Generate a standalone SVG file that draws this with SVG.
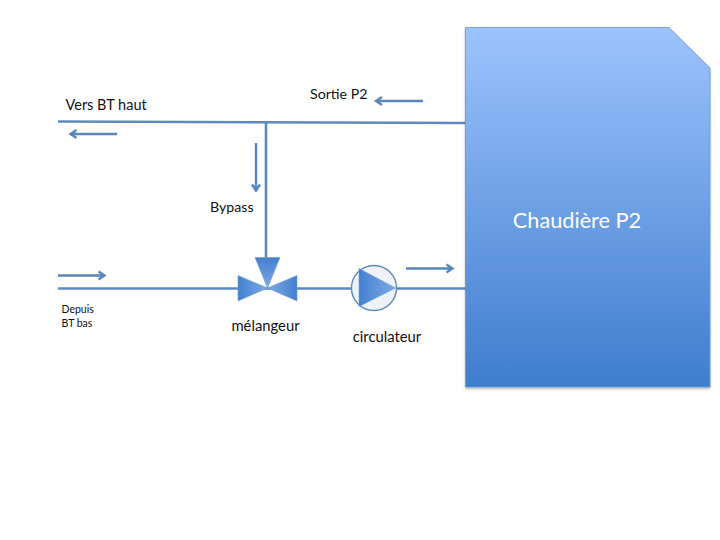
<svg xmlns="http://www.w3.org/2000/svg" width="720" height="540" viewBox="0 0 720 540">
<defs>
<linearGradient id="boxFill" x1="0" y1="0" x2="0" y2="1"><stop offset="0" stop-color="#9dc3fd"/><stop offset="1" stop-color="#3e7dcd"/></linearGradient>
<linearGradient id="triDown" x1="0" y1="0" x2="0" y2="1"><stop offset="0" stop-color="#4480cf"/><stop offset="1" stop-color="#7ea9e6"/></linearGradient>
<linearGradient id="triRight" x1="0" y1="0" x2="1" y2="0"><stop offset="0" stop-color="#4480cf"/><stop offset="1" stop-color="#7ea9e6"/></linearGradient>
<linearGradient id="triLeft" x1="1" y1="0" x2="0" y2="0"><stop offset="0" stop-color="#4480cf"/><stop offset="1" stop-color="#7ea9e6"/></linearGradient>
<filter id="soft" x="-5%" y="-5%" width="110%" height="110%"><feDropShadow dx="0" dy="1.500" stdDeviation="1" flood-color="#000" flood-opacity="0.3"/></filter>
</defs>
<style>
.pipe{fill:none;stroke:#5d89bd;stroke-width:2.600}
.flow{fill:none;stroke:#5a86bb;stroke-width:2.400}
.t{font-family:"Lato","Carlito","Liberation Sans",sans-serif;fill:#111;font-size:14.500px}
.valve{stroke:#6f9ad0;stroke-width:.6}
</style>
<g id="connectors">
<path class="pipe" d="M58 121.500L466 123"/>
<path class="pipe" d="M266 122V258"/>
<path class="pipe" d="M58 288.500H466"/>
<path class="flow" d="M117 134H71M76.500 130L70.500 134L76.500 138"/>
<path class="flow" d="M256 143V190M252 184.500L256 190.500L260 184.500"/>
<path class="flow" d="M423 101H376M382 97L376 101L382 105"/>
<path class="flow" d="M58 275.500H104M98.500 271.500L104.500 275.500L98.500 279.500"/>
<path class="flow" d="M406 268.500H452M446.500 264.500L452.500 268.500L446.500 272.500"/>
</g>
<g id="chaudiere">
<path d="M465.500 27.500H669L710 68V387H465.500Z" fill="url(#boxFill)" stroke="#6a97d2" stroke-width=".8" filter="url(#soft)"/>
<text x="577" y="228" text-anchor="middle" font-family="Lato,Carlito,'Liberation Sans',sans-serif" font-size="21.700" fill="#fff">Chaudière P2</text>
</g>
<g id="melangeur">
<path class="valve" d="M255 257.500H280L267.500 288Z" fill="url(#triDown)"/>
<path class="valve" d="M238 275.500L267.500 288L238 301Z" fill="url(#triRight)"/>
<path class="valve" d="M297 275.500L267.500 288L297 301Z" fill="url(#triLeft)"/>
<text class="t" x="265.500" y="331" text-anchor="middle" style="font-size:14.800px">mélangeur</text>
</g>
<g id="circulateur">
<circle cx="374" cy="288" r="22.500" fill="#eef3fa" stroke="#5d89bd" stroke-width="1.400"/>
<path class="valve" d="M359 268.500L395.500 288L359 306.500Z" fill="url(#triRight)"/>
<text class="t" x="387" y="342" text-anchor="middle" style="font-size:14.800px">circulateur</text>
</g>
<g id="labels">
<text class="t" x="65.500" y="110">Vers BT haut</text>
<text class="t" x="310" y="99" style="font-size:14.200px">Sortie P2</text>
<text class="t" x="210" y="212" style="font-size:14.200px">Bypass</text>
<text class="t" x="61.500" y="313" style="font-size:10.500px">Depuis</text>
<text class="t" x="61.500" y="327" style="font-size:10.500px">BT bas</text>
</g>
</svg>
